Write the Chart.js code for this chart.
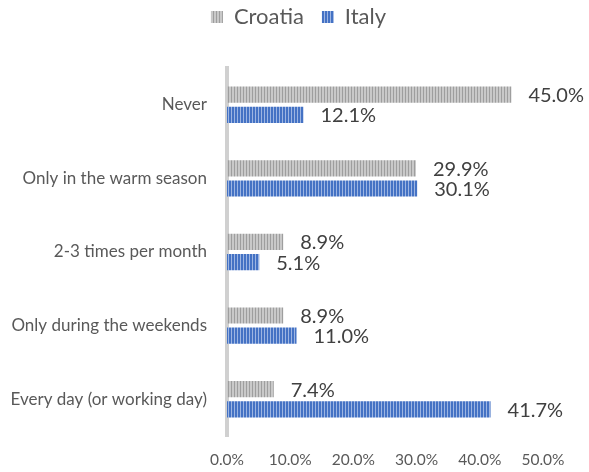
<!DOCTYPE html>
<html>
<head>
<meta charset="utf-8">
<script src="https://cdn.jsdelivr.net/npm/chart.js@4/dist/chart.umd.min.js"></script>
<style>
  html, body { margin: 0; padding: 0; background: #fff; }
  #wrap { width: 589px; height: 472px; }
</style>
</head>
<body>
<div id="wrap"><canvas id="myChart" width="589" height="472"></canvas></div>
<script>
const categories = ['Never', 'Only in the warm season', '2-3 times per month', 'Only during the weekends', 'Every day (or working day)'];
const croatia = [45.0, 29.9, 8.9, 8.9, 7.4];
const italy = [12.1, 30.1, 5.1, 11.0, 41.7];
const xTicks = [0, 10, 20, 30, 40, 50];

const FONT = 'Lato, "Open Sans", sans-serif';

// vertical stripe fills (Excel "dark vertical" look)
function stripes(base, line) {
  const c = document.createElement('canvas');
  c.width = 3; c.height = 4;
  const g = c.getContext('2d');
  g.fillStyle = base; g.fillRect(0, 0, 3, 4);
  g.fillStyle = line; g.fillRect(0, 0, 1, 4);
  return g.createPattern(c, 'repeat');
}
const ctx = document.getElementById('myChart').getContext('2d');
const grayFill = stripes('#c9c9c9', '#9e9e9e');
const blueFill = stripes('#4472c4', '#9db5e2');

const valueLabels = {
  id: 'valueLabels',
  afterDatasetsDraw(chart) {
    const c = chart.ctx;
    c.save();
    c.font = '20px ' + FONT;
    c.fillStyle = '#404040';
    c.textBaseline = 'middle';
    c.textAlign = 'left';
    chart.data.datasets.forEach((ds, i) => {
      chart.getDatasetMeta(i).data.forEach((bar, j) => {
        c.fillText(ds.data[j].toFixed(1) + '%', bar.x + 17, bar.y + 1);
      });
    });
    c.restore();
  }
};

// extra space under the legend, and centre it on the whole canvas
const legendGap = {
  id: 'legendGap',
  beforeInit(chart) {
    const fit = chart.legend.fit;
    chart.legend.fit = function () {
      fit.bind(chart.legend)();
      this.height += 30;
    };
  },
  afterLayout(chart) {
    chart.legend.left += 25;
    chart.legend.right += 25;
  }
};

const config = {
  type: 'bar',
  data: {
    labels: categories,
    datasets: [
      { label: 'Croatia', data: croatia, backgroundColor: grayFill, borderWidth: 0,
        barPercentage: 0.8, categoryPercentage: 0.55 },
      { label: 'Italy', data: italy, backgroundColor: blueFill, borderWidth: 0,
        barPercentage: 0.8, categoryPercentage: 0.55 }
    ]
  },
  options: {
    indexAxis: 'y',
    responsive: false,
    animation: false,
    layout: { padding: { left: 4, right: 46, top: -12, bottom: 2 } },
    plugins: {
      legend: {
        position: 'top',
        labels: {
          font: { family: FONT, size: 22 },
          color: '#595959',
          boxWidth: 12,
          boxHeight: 12,
          padding: 18
        }
      },
      tooltip: { enabled: false }
    },
    scales: {
      x: {
        min: 0,
        max: 50,
        afterBuildTicks(scale) { scale.ticks = xTicks.map(v => ({ value: v })); },
        afterFit(scale) { scale.height = 34; },
        grid: { display: false, drawTicks: false },
        border: { display: false },
        ticks: {
          font: { family: FONT, size: 15.5 },
          color: '#595959',
          padding: 15,
          callback: v => v.toFixed(1) + '%'
        }
      },
      y: {
        grid: { display: false },
        border: { display: true, color: '#d0d0d0', width: 4 },
        afterFit(scale) { scale.width = 223; },
        ticks: {
          font: { family: FONT, size: 17 },
          color: '#595959',
          padding: 12
        }
      }
    }
  },
  plugins: [valueLabels, legendGap]
};

const myChart = new Chart(ctx, config);
</script>
</body>
</html>
